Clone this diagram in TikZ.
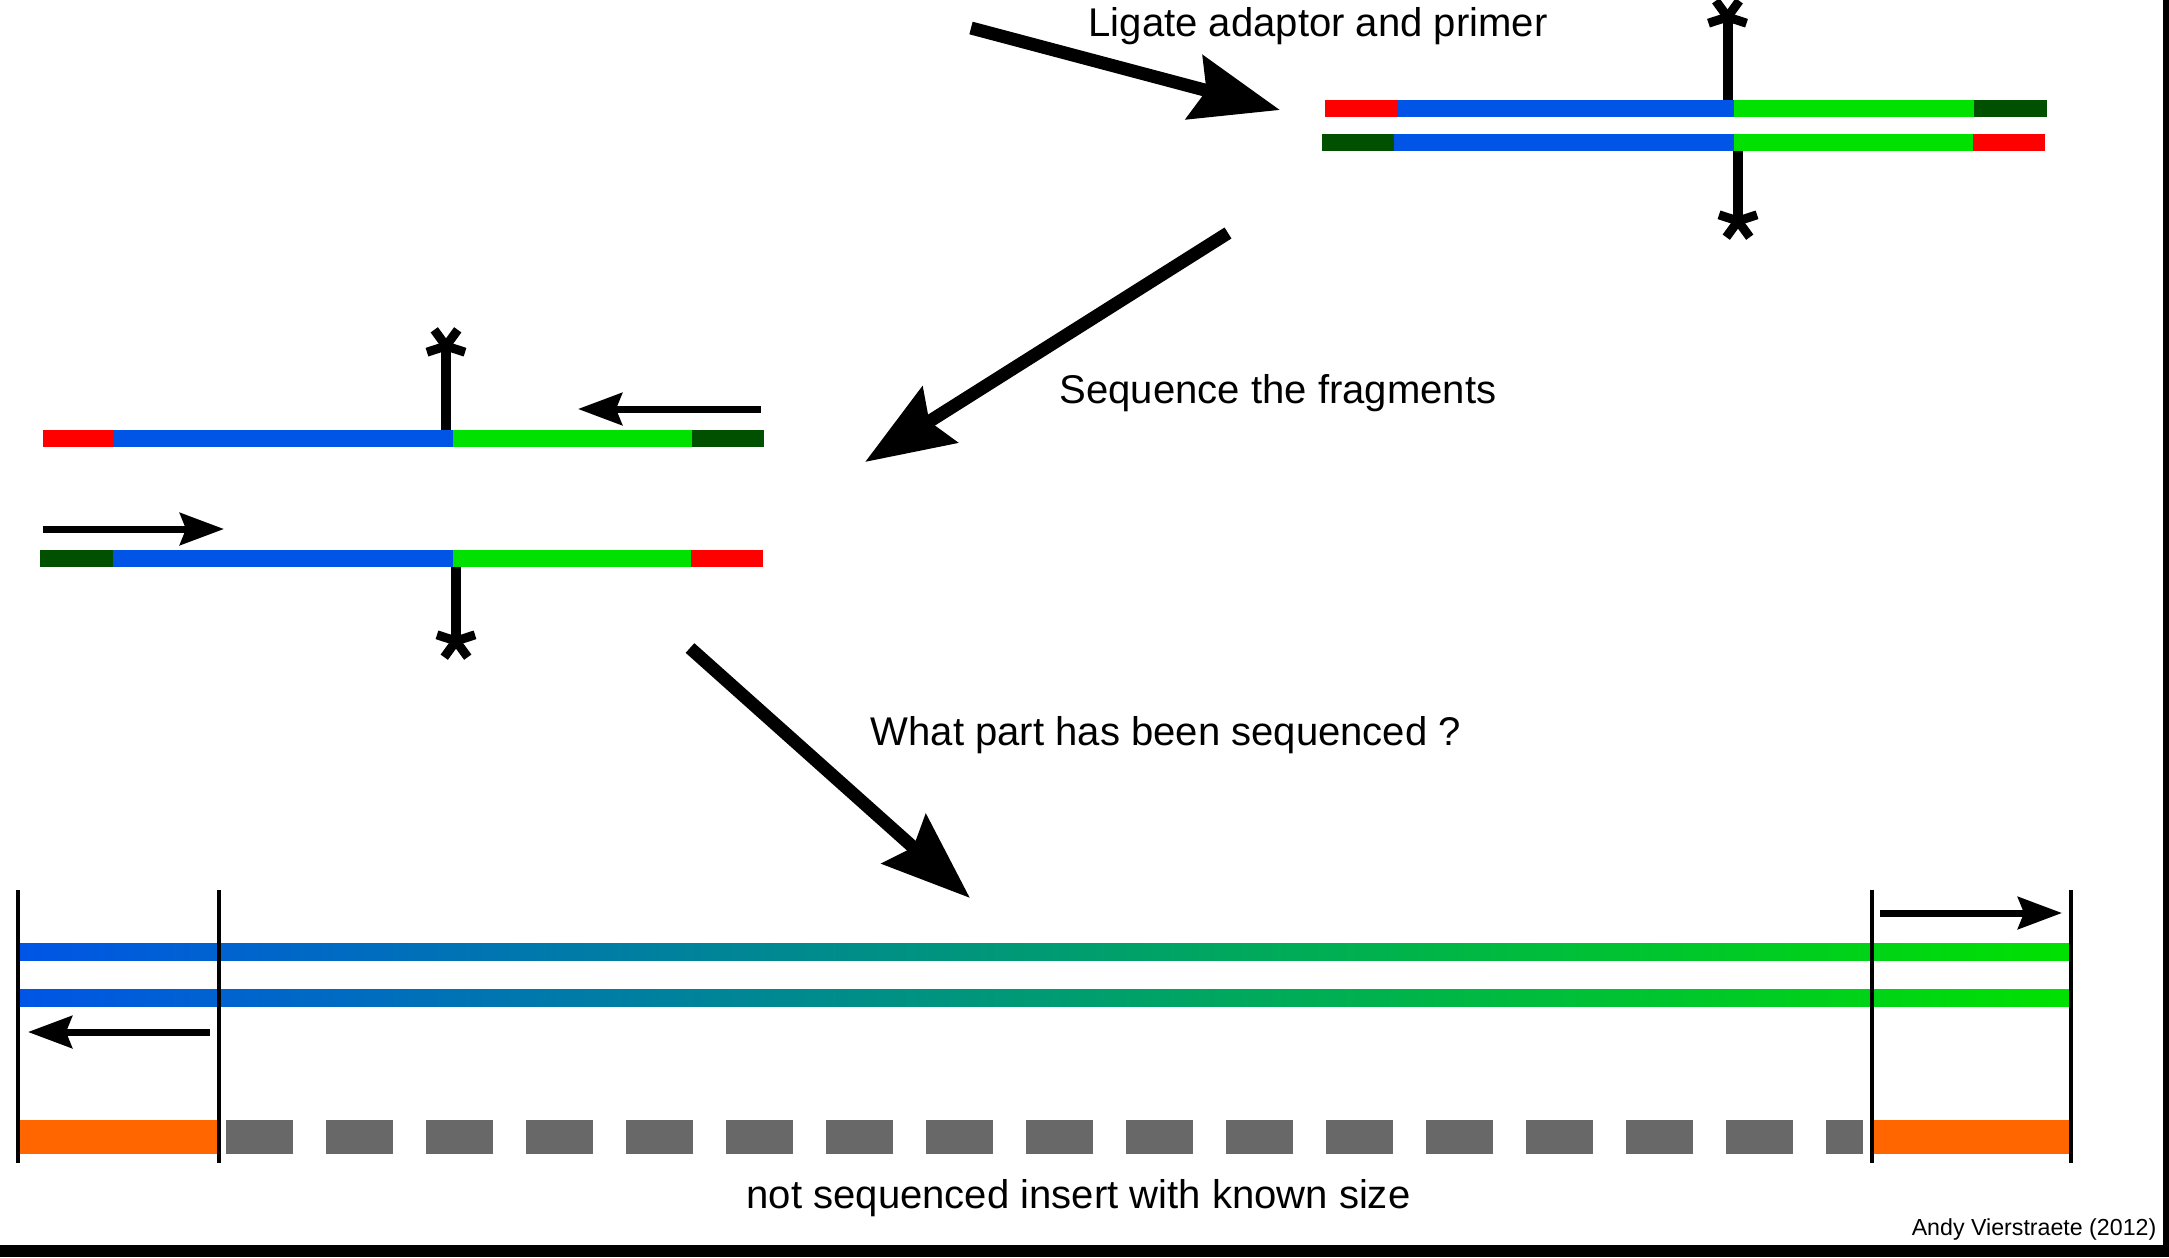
\documentclass[tikz,border=0pt]{standalone}
\usepackage{fontspec}
\setmainfont{Liberation Sans}
\usetikzlibrary{arrows.meta}
\definecolor{dnared}{RGB}{255,0,0}
\definecolor{dnablue}{RGB}{0,85,230}
\definecolor{dnagreen}{RGB}{0,225,0}
\definecolor{dnadark}{RGB}{0,80,0}
\definecolor{seqorange}{RGB}{255,102,0}
\definecolor{gapgray}{RGB}{104,104,104}
\tikzset{
  bigarrow/.style={line width=1.3mm, -{Stealth[length=8.8mm, width=6.5mm, inset=1.2mm]}},
  primer/.style={line width=0.7mm, -{Stealth[length=4.4mm, width=3.2mm, inset=0.6mm]}},
  lbl/.style={font=\fontsize{11.4pt}{13pt}\selectfont, inner sep=0pt, anchor=base west},
  stem/.style={line width=1mm},
  endline/.style={line width=0.4mm},
  ast/.pic={\foreach \a in {90,18,162,234,306} \draw[line width=0.9mm] (0,0) -- (\a:2mm);}
}

\begin{document}
\begin{tikzpicture}[x=0.1mm, y=-0.1mm]
  \useasboundingbox (0,0) rectangle (2169,1257);
  % frame shadow
  \fill (2163,0) rectangle (2169,1257);
  \fill (0,1245) rectangle (2169,1257);

  % ligated fragment
  \foreach \c/\xa/\xb in {dnared/1325/1397, dnablue/1397/1734, dnagreen/1734/1974, dnadark/1974/2047}
    \fill[\c] (\xa,100) rectangle (\xb,117);
  \foreach \c/\xa/\xb in {dnadark/1322/1394, dnablue/1394/1734, dnagreen/1734/1973, dnared/1973/2045}
    \fill[\c] (\xa,134) rectangle (\xb,151);
  \draw[stem] (1727.5,100) -- (1727.5,17);
  \pic[rotate=180] at (1727.5,17) {ast};
  \draw[stem] (1738,151) -- (1738,221);
  \pic at (1738,221) {ast};

  % fragments with sequencing primers
  \foreach \c/\xa/\xb in {dnared/43/114, dnablue/114/453, dnagreen/453/692, dnadark/692/764}
    \fill[\c] (\xa,430) rectangle (\xb,447);
  \foreach \c/\xa/\xb in {dnadark/40/113, dnablue/113/453, dnagreen/453/691, dnared/691/763}
    \fill[\c] (\xa,550) rectangle (\xb,567);
  \draw[stem] (446,430) -- (446,346);
  \pic[rotate=180] at (446,346) {ast};
  \draw[stem] (456,567) -- (456,641);
  \pic at (456,641) {ast};
  \coordinate (p1s) at (761,409);
  \coordinate (p1e) at (578,409);
  \coordinate (p2s) at (43,529);
  \coordinate (p2e) at (224,529);
  \draw[primer] (p1s) -- (p1e);
  \draw[primer] (p2s) -- (p2e);

  % read ends and the gap
  \shade[left color=dnablue, right color=dnagreen] (20,943) rectangle (2070,960);
  \shade[left color=dnablue, right color=dnagreen] (20,989) rectangle (2070,1006);
  \fill[seqorange] (20,1120) rectangle (217,1154);
  \fill[seqorange] (1874,1120) rectangle (2070,1154);
  \foreach \k in {0,...,15}
    \fill[gapgray] ({226+100*\k},1120) rectangle +(67,34);
  \fill[gapgray] (1826,1120) rectangle (1863,1154);
  \foreach \x in {18,219,1872,2071}
    \draw[endline] (\x,890) -- (\x,1163);
  \coordinate (r1s) at (210,1032);
  \coordinate (r1e) at (28,1032);
  \coordinate (r2s) at (1880,913);
  \coordinate (r2e) at (2062,913);
  \draw[primer] (r1s) -- (r1e);
  \draw[primer] (r2s) -- (r2e);

  % steps
  \coordinate (a1s) at (971,28);
  \coordinate (a1e) at (1280,110);
  \coordinate (a2s) at (1228,233);
  \coordinate (a2e) at (865,462);
  \coordinate (a3s) at (690,648);
  \coordinate (a3e) at (970,898);
  \draw[bigarrow] (a1s) -- (a1e);
  \draw[bigarrow] (a2s) -- (a2e);
  \draw[bigarrow] (a3s) -- (a3e);
  \node[lbl] (ligtxt) at (1088,36) {Ligate adaptor and primer};
  \node[lbl] (seqtxt) at (1059,403) {Sequence the fragments};
  \node[lbl] (whattxt) at (870,745) {What part has been sequenced ?};
  \node[lbl] (gaptxt) at (746,1208) {not sequenced insert with known size};
  \node[font=\fontsize{6.6pt}{8pt}\selectfont, inner sep=0pt, anchor=base east] (credit) at (2157,1235) {Andy Vierstraete (2012)};
\end{tikzpicture}
\end{document}
